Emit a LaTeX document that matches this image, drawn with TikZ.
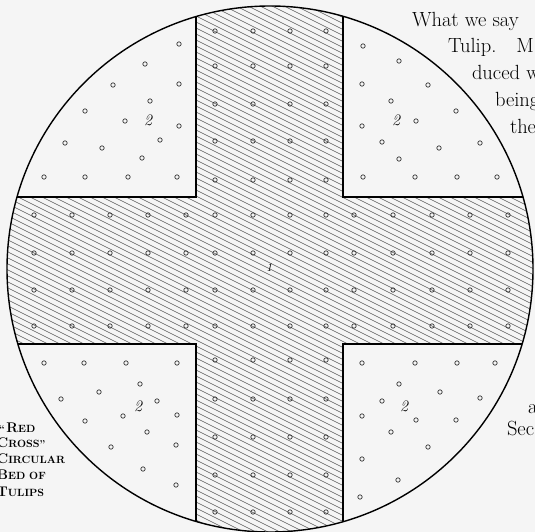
\documentclass[tikz,border=0pt]{standalone}
\usepackage{fontspec}
\newcommand\fakesc[2]{{\fontsize{14}{16}\selectfont #1}{\fontsize{10.5}{16}\selectfont #2}}
\begin{document}
\begin{tikzpicture}[x=1pt, y=-1pt,
		every node/.style={inner sep=0pt, outer sep=0pt},
		bedline/.style={line width=1.4pt},
		crossline/.style={line width=1.1pt},
		hatch/.style={line width=0.65pt, black!65},
		tulip/.style={line width=0.7pt, black!80},
		bodytext/.style={font=\fontsize{20.5}{26}\selectfont, anchor=base west},
		captext/.style={font=\bfseries, anchor=base west},
		plotnum/.style={font=\fontsize{16}{16}\itshape\selectfont}
		]
		
		% Page
		\useasboundingbox (0,0) rectangle (535,532);
		\clip (0,0) rectangle (535,532);
		\fill[black!4] (0,0) rectangle (535,532);
		\coordinate (c) at (270,269);
		
		% Hatching of the cross
		\begin{scope}
			\clip (c) circle (263);
			\clip (196,0) rectangle (343,540) (0,197) rectangle (540,344);
			\foreach \b in {-280,-274,...,545} {
				\draw[hatch] (0,\b) -- (540,{\b+270});
			}
		\end{scope}
		
		% Outline of the cross
		\begin{scope}
			\clip (c) circle (263);
			\draw[crossline] (196,0) -- (196,197) -- (0,197);
			\draw[crossline] (343,0) -- (343,197) -- (540,197);
			\draw[crossline] (196,540) -- (196,344) -- (0,344);
			\draw[crossline] (343,540) -- (343,344) -- (540,344);
		\end{scope}
		
		% Circular bed
		\draw[bedline] (c) circle (263);
		
		% Tulips in the corners
		\foreach \x/\y in {179/44, 145/64, 113/85, 179/84, 150/101, 85/111, 125/121, 179/126,
			65/143, 160/140, 102/148, 142/158, 44/177, 85/177, 128/177, 177/177} {
			\draw[tulip] (\x,\y) circle (2.2);
		}
		\foreach \x/\y in {363/46, 399/61, 362/84, 428/85, 391/101, 456/111, 362/126, 416/121,
			382/142, 439/148, 480/143, 399/159, 363/177, 415/177, 457/177, 497/177} {
			\draw[tulip] (\x,\y) circle (2.2);
		}
		\foreach \x/\y in {44/363, 84/363, 126/363, 177/363, 140/384, 99/392, 61/399, 157/401,
			123/416, 177/415, 85/421, 147/432, 111/447, 176/445, 143/469, 176/485} {
			\draw[tulip] (\x,\y) circle (2.2);
		}
		\foreach \x/\y in {362/363, 415/363, 457/363, 495/363, 399/384, 440/392, 480/398, 382/401,
			362/416, 416/420, 456/420, 391/432, 428/447, 362/459, 398/480, 360/497} {
			\draw[tulip] (\x,\y) circle (2.2);
		}
		
		% Tulips in the cross
		\foreach \y in {31,66,104,141,180,215,253,290,326,360,399,437,475,512} {
			\foreach \x in {215,253,290,326} {
				\draw[tulip] (\x,\y) circle (2.2);
			}
		}
		\foreach \y in {215,253,290,326} {
			\foreach \x in {34,72,110,148,186,354,393,432,470,508} {
				\draw[tulip] (\x,\y) circle (2.2);
			}
		}
		
		% Plot numbers
		\node[plotnum, font=\fontsize{12}{12}\itshape\selectfont] (n1) at (269,268) {1};
		\node[plotnum] (n2a) at (148,120) {2};
		\node[plotnum] (n2b) at (396,120) {2};
		\node[plotnum] (n2c) at (138,406) {2};
		\node[plotnum] (n2d) at (404,406) {2};
		
		% Text of the page
		\node[bodytext] (t1) at (412,27) {What we say};
		\node[bodytext] (t2) at (448,53) {Tulip.\hspace{20pt}M};
		\node[bodytext] (t3) at (472,80) {duced w};
		\node[bodytext] (t4) at (495,107) {being};
		\node[bodytext] (t5) at (510,133) {the};
		\node[bodytext] (t6) at (528,413) {a};
		\node[bodytext] (t7) at (507,435) {Sec};
		
		% Caption
		\node[captext] (cap1) at (-1,432) {``\,\fakesc{R}{ED}};
		\node[captext] (cap2) at (-3,447) {\fakesc{C}{ROSS}''};
		\node[captext] (cap3) at (-3,463) {\fakesc{C}{IRCULAR}};
		\node[captext] (cap4) at (-3,479) {\fakesc{B}{ED} \fakesc{}{OF}};
		\node[captext] (cap5) at (-3,496) {\fakesc{T}{ULIPS}};
		
	\end{tikzpicture}
\end{document}
